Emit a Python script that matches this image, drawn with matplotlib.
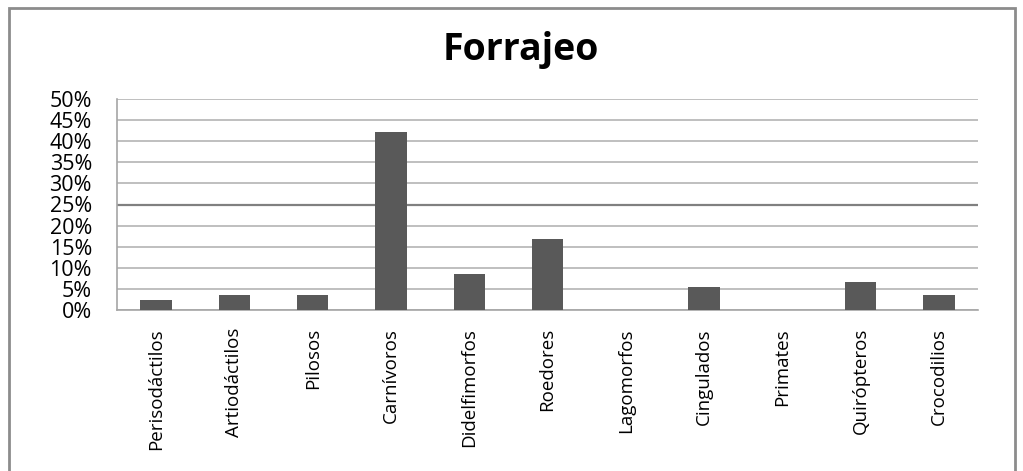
import numpy as np
import matplotlib
matplotlib.use('Agg')
import matplotlib.pyplot as plt
from matplotlib.patches import Rectangle
from matplotlib.ticker import FuncFormatter

# proporción de registros por orden (forrajeo)
ordenes = ['Perisodáctilos', 'Artiodáctilos', 'Pilosos', 'Carnívoros', 'Didelfimorfos',
           'Roedores', 'Lagomorfos', 'Cingulados', 'Primates', 'Quirópteros', 'Crocodilios']
valores = [0.024, 0.035, 0.035, 0.422, 0.085, 0.169, 0.0, 0.054, 0.0, 0.067, 0.035]
yticks = np.arange(0, 0.51, 0.05)

plt.rcParams['font.family'] = ['Open Sans', 'DejaVu Sans']
W, H = 1023, 471
fig = plt.figure(figsize=(W/100, H/100), dpi=100)

# marco exterior del gráfico
fig.patches.append(Rectangle((9/W, -0.05), (1015-9)/W, 1.05-8/H, transform=fig.transFigure,
                             fill=False, edgecolor='#8c8c8c', lw=2))

ax = fig.add_axes([117/W, 1-310/H, (978-117)/W, (310-99)/H])
x = np.arange(len(ordenes))
ax.bar(x, valores, width=0.4, color='#595959', zorder=3)

ax.set_xlim(-0.5, len(ordenes)-0.5)
ax.set_ylim(0, 0.5)
ax.set_yticks(yticks)
ax.yaxis.set_major_formatter(FuncFormatter(lambda v, p: f'{v*100:.0f}%'))
for y in yticks:
    dark = abs(y-0.25) < 1e-9
    ax.axhline(y, color='#808080' if dark else '#b4b4b4', lw=1.6 if dark else 1.2, zorder=1)

ax.set_xticks(x)
ax.set_xticklabels(ordenes, rotation=90, fontsize=13.5, va='top')
ax.tick_params(axis='both', length=0)
ax.tick_params(axis='x', pad=13)
ax.tick_params(axis='y', labelsize=15.5, pad=18)

for s in ['top', 'right']:
    ax.spines[s].set_visible(False)
for s in ['left', 'bottom']:
    ax.spines[s].set_color('#a6a6a6')
    ax.spines[s].set_linewidth(1.2)

fig.text(521/W, 1-50/H, 'Forrajeo', ha='center', va='center', fontsize=27, fontweight='bold')

fig.savefig('out.png', dpi=100)
